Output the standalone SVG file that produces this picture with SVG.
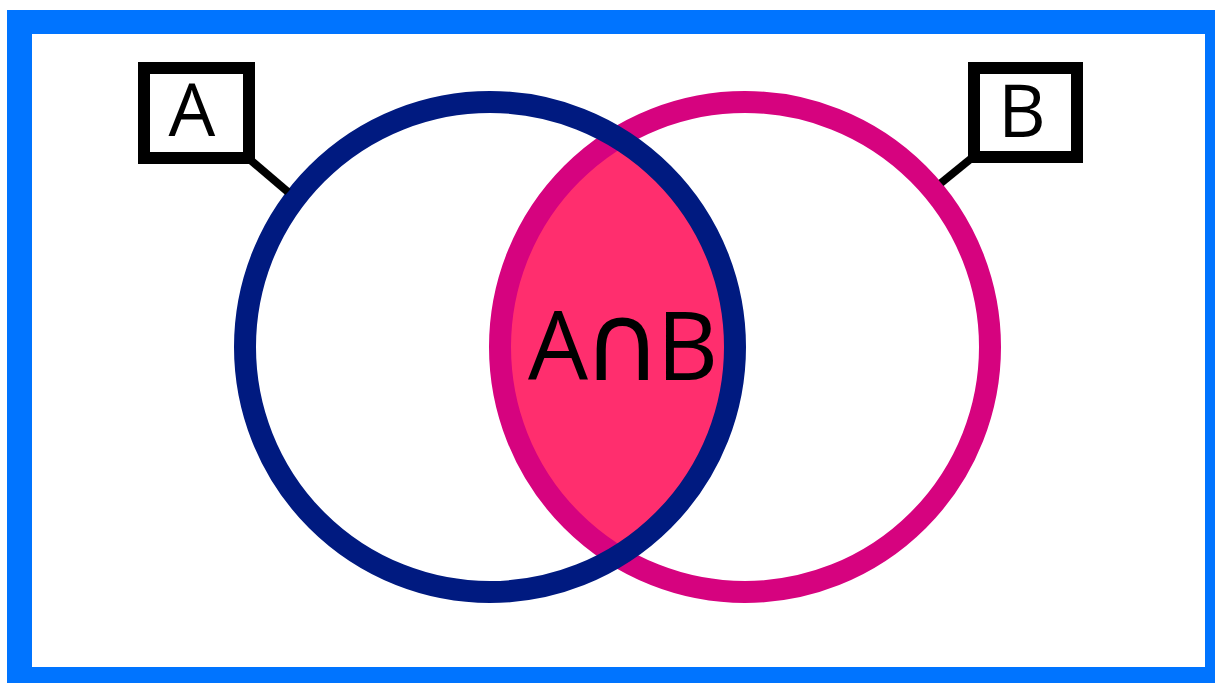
<svg xmlns="http://www.w3.org/2000/svg" width="1215" height="683" viewBox="0 0 1215 683">
<style>
.lbl{fill:#fff;stroke:#000;stroke-width:12}
.lead{stroke:#000;stroke-width:8;fill:none}
.t{font-family:"Open Sans","DejaVu Sans",sans-serif;fill:#000;text-anchor:middle}
</style>
<rect x="0" y="0" width="1215" height="683" fill="#fff"/>
<rect x="7" y="10" width="1208" height="673" fill="#0074ff"/>
<rect x="32" y="34" width="1173" height="633" fill="#fff"/>
<g id="intersection">
<path d="M617.5,137.8 A245,245 0 0,1 617.5,556.2 A245,245 0 0,1 617.5,137.8 Z" fill="#ff2e6e"/>
</g>
<g id="setB">
<circle cx="745" cy="347" r="245" fill="none" stroke="#d6037f" stroke-width="22"/>
</g>
<g id="setA">
<circle cx="490" cy="347" r="245" fill="none" stroke="#001a80" stroke-width="22"/>
</g>
<g id="connectors">
<line class="lead" x1="248" y1="158" x2="288" y2="192"/>
<line class="lead" x1="973" y1="157" x2="941" y2="183"/>
</g>
<g id="labelA">
<rect class="lbl" x="144" y="68" width="105" height="90"/>
<text class="t" x="192" y="136" font-size="74">A</text>
</g>
<g id="labelB">
<rect class="lbl" x="974" y="68" width="103" height="89"/>
<text class="t" x="1022" y="137" font-size="74">B</text>
</g>
<g id="labelAB">
<text class="t" x="623" y="380" font-size="95" textLength="190" lengthAdjust="spacing">A<tspan font-family="DejaVu Sans" font-size="108">∩</tspan>B</text>
</g>
</svg>
